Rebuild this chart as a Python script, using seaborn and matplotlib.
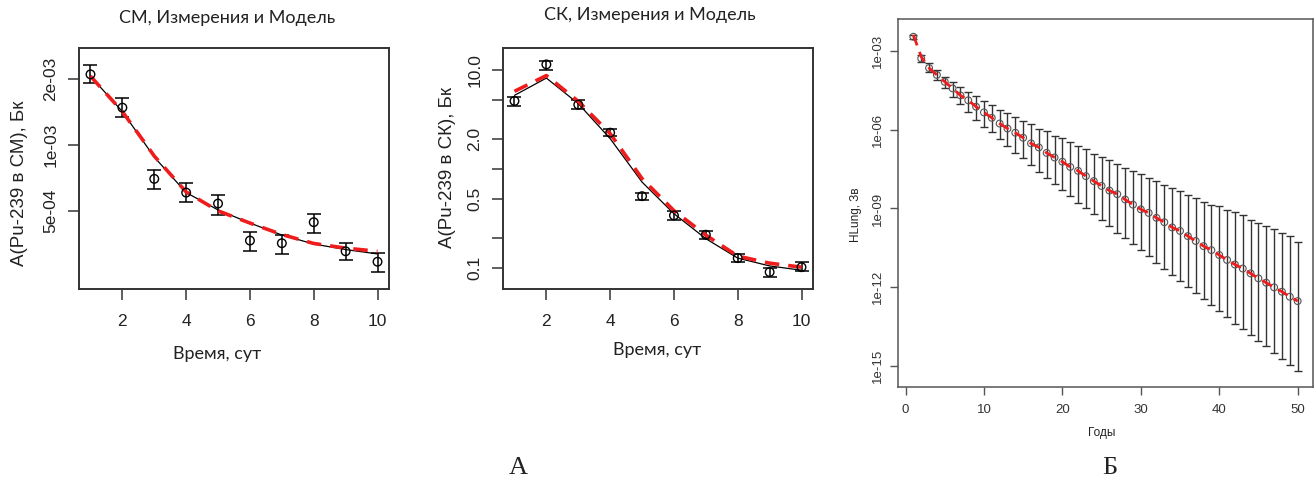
import numpy as np
import pandas as pd
import seaborn as sns
import matplotlib.pyplot as plt
from matplotlib.ticker import FixedLocator, FixedFormatter, NullLocator

# --- данные ---
days = [1, 2, 3, 4, 5, 6, 7, 8, 9, 10]

# СМ
sm_meas = [2.10e-3, 1.48e-3, 7.0e-4, 6.06e-4, 5.4e-4, 3.66e-4, 3.56e-4, 4.44e-4, 3.27e-4, 2.93e-4]
sm_hi = [2.32e-3, 1.63e-3, 7.7e-4, 6.7e-4, 5.9e-4, 4.0e-4, 3.88e-4, 4.82e-4, 3.58e-4, 3.22e-4]
sm_lo = [1.91e-3, 1.34e-3, 6.3e-4, 5.5e-4, 4.8e-4, 3.27e-4, 3.18e-4, 3.98e-4, 2.97e-4, 2.62e-4]
sm_fit = [2.06e-3, 1.42e-3, 8.8e-4, 6.06e-4, 5.05e-4, 4.4e-4, 3.88e-4, 3.53e-4, 3.33e-4, 3.18e-4]
sm_model = [2.06e-3, 1.42e-3, 8.9e-4, 6.1e-4, 5.0e-4, 4.4e-4, 3.9e-4, 3.55e-4, 3.38e-4, 3.27e-4]

# СК
sk_meas = [4.87, 11.4, 4.47, 2.33, 0.532, 0.340, 0.217, 0.126, 0.091, 0.102]
sk_hi = [5.33, 12.4, 4.97, 2.56, 0.573, 0.373, 0.237, 0.138, 0.099, 0.114]
sk_lo = [4.37, 10.1, 4.07, 2.14, 0.483, 0.304, 0.198, 0.115, 0.081, 0.093]
sk_fit = [5.55, 8.3, 4.58, 2.03, 0.738, 0.354, 0.198, 0.126, 0.105, 0.095]
sk_model = [6.1, 8.8, 4.83, 2.28, 0.80, 0.38, 0.215, 0.132, 0.112, 0.102]

# HLung
years = list(range(1, 51))
hl_mean = [3.4e-3, 5.1e-4, 2.2e-4, 1.2e-4, 6.6e-5, 3.7e-5, 2.0e-5, 1.3e-5, 7.4e-6, 4.5e-6,
           2.8e-6, 1.7e-6, 1.1e-6, 7.6e-7, 4.9e-7, 3.0e-7, 2.1e-7, 1.3e-7, 8.7e-8, 6.0e-8,
           3.8e-8, 2.7e-8, 1.7e-8, 1.1e-8, 7.2e-9, 4.8e-9, 3.5e-9, 2.2e-9, 1.4e-9, 9.3e-10,
           6.8e-10, 4.4e-10, 3.0e-10, 1.9e-10, 1.4e-10, 8.9e-11, 5.8e-11, 3.7e-11, 2.6e-11, 1.7e-11,
           1.1e-11, 7.4e-12, 5.2e-12, 3.4e-12, 2.2e-12, 1.5e-12, 1.0e-12, 6.8e-13, 4.4e-13, 3.0e-13]
hl_hi = [4.0e-3, 6.9e-4, 3.3e-4, 1.9e-4, 1.0e-4, 6.6e-5, 4.3e-5, 2.7e-5, 1.9e-5, 1.2e-5,
         8.5e-6, 5.5e-6, 4.4e-6, 2.9e-6, 2.1e-6, 1.6e-6, 1.1e-6, 8.8e-7, 5.8e-7, 4.6e-7,
         3.4e-7, 2.4e-7, 1.8e-7, 1.2e-7, 9.2e-8, 7.0e-8, 5.1e-8, 3.6e-8, 2.7e-8, 2.0e-8,
         1.5e-8, 1.1e-8, 7.7e-9, 5.8e-9, 4.5e-9, 3.2e-9, 2.4e-9, 1.8e-9, 1.4e-9, 1.2e-9,
         9.1e-10, 7.4e-10, 5.6e-10, 3.8e-10, 2.9e-10, 2.1e-10, 1.6e-10, 1.2e-10, 8.8e-11, 5.4e-11]
hl_lo = [2.8e-3, 3.8e-4, 1.6e-4, 7.6e-5, 3.7e-5, 1.8e-5, 9.1e-6, 4.6e-6, 2.3e-6, 1.3e-6,
         7.8e-7, 4.3e-7, 2.3e-7, 1.3e-7, 8.0e-8, 4.4e-8, 2.5e-8, 1.5e-8, 8.5e-9, 5.0e-9,
         2.9e-9, 1.6e-9, 1.0e-9, 6.1e-10, 3.6e-10, 2.1e-10, 1.2e-10, 7.3e-11, 4.3e-11, 2.6e-11,
         1.5e-11, 8.5e-12, 5.2e-12, 2.9e-12, 1.8e-12, 1.0e-12, 6.2e-13, 3.7e-13, 2.1e-13, 1.3e-13,
         7.4e-14, 4.1e-14, 2.6e-14, 1.5e-14, 9.1e-15, 5.7e-15, 3.2e-15, 1.9e-15, 1.1e-15, 6.6e-16]
hl_model = [4.0e-3, 5.9e-4] + hl_mean[2:]

sns.set_style("white")
plt.rcParams['font.family'] = ['Liberation Sans', 'DejaVu Sans']
TXT = '#222222'

W, H = 1314, 486
fig = plt.figure(figsize=(W / 100, H / 100), dpi=100)


def px_axes(x0, y0, x1, y1):
    # прямоугольник в пикселях (сверху вниз) -> доли фигуры
    return fig.add_axes([x0 / W, 1 - y1 / H, (x1 - x0) / W, (y1 - y0) / H])


def ftext(x, y, s, **kw):
    fig.text(x / W, 1 - y / H, s, ha='center', va='center', color=TXT, **kw)


def small_panel(ax, meas, lo, hi, fit, model, yticks, ylabels, ylim):
    df = pd.DataFrame({'t': days, 'meas': meas, 'fit': fit, 'model': model})
    err = [np.array(meas) - np.array(lo), np.array(hi) - np.array(meas)]
    ax.errorbar(days, meas, yerr=err, fmt='none', ecolor='black', elinewidth=1.1,
                capsize=5, capthick=1.1)
    sns.scatterplot(data=df, x='t', y='meas', ax=ax, marker='o', s=38,
                    facecolor='none', edgecolor='black', linewidth=1.0, zorder=3)
    sns.lineplot(data=df, x='t', y='fit', ax=ax, color='black', linewidth=0.9)
    sns.lineplot(data=df, x='t', y='model', ax=ax, color='#ee1c1c', linewidth=2.6,
                 dashes=(4, 2.5))
    ax.set_yscale('log')
    ax.set_xlim(0.64, 10.36)
    ax.set_ylim(*ylim)
    ax.xaxis.set_major_locator(FixedLocator([2, 4, 6, 8, 10]))
    ax.yaxis.set_major_locator(FixedLocator(yticks))
    ax.yaxis.set_major_formatter(FixedFormatter(ylabels))
    ax.yaxis.set_minor_locator(NullLocator())
    ax.set_xlabel('')
    ax.set_ylabel('')
    ax.tick_params(direction='out', length=8, width=1.1, color='#333333',
                   labelsize=12.5, labelcolor=TXT, left=True, bottom=True)
    ax.tick_params(axis='x', pad=10)
    ax.tick_params(axis='y', pad=7)
    for lab in ax.get_yticklabels():
        lab.set_rotation(90)
        lab.set_va('center')
    for sp in ax.spines.values():
        sp.set_color('#333333')
        sp.set_linewidth(1.4)


# --- панель СМ ---
ax1 = px_axes(79, 48, 389, 289)
small_panel(ax1, sm_meas, sm_lo, sm_hi, sm_fit, sm_model,
            [5e-4, 1e-3, 2e-3], ['5e-04', '1e-03', '2e-03'], (2.2e-4, 2.77e-3))
ftext(227, 18, 'СМ, Измерения и Модель', family='Lato', fontsize=13)
ftext(217, 354, 'Время, сут', family='Lato', fontsize=13)
ftext(20, 183, 'A(Pu-239 в СМ), Бк', rotation=90, fontsize=13.5)

# --- панель СК ---
ax2 = px_axes(503, 48, 813, 289)
small_panel(ax2, sk_meas, sk_lo, sk_hi, sk_fit, sk_model,
            [0.1, 0.2, 0.5, 1, 2, 5, 10], ['0.1', '', '0.5', '', '2.0', '', '10.0'],
            (0.0614, 16.7))
ftext(650, 15, 'СК, Измерения и Модель', family='Lato', fontsize=13)
ftext(657, 350, 'Время, сут', family='Lato', fontsize=13)
ftext(447, 167, 'A(Pu-239 в СК), Бк', rotation=90, fontsize=13.5)

# --- панель HLung ---
ax3 = px_axes(898, 19, 1313, 387)
hdf = pd.DataFrame({'year': years, 'mean': hl_mean, 'model': hl_model})
herr = [np.array(hl_mean) - np.array(hl_lo), np.array(hl_hi) - np.array(hl_mean)]
ax3.errorbar(years, hl_mean, yerr=herr, fmt='none', ecolor='#333333', elinewidth=1.0,
             capsize=3.2, capthick=1.0)
sns.scatterplot(data=hdf, x='year', y='mean', ax=ax3, marker='o', s=24,
                facecolor='none', edgecolor='#555555', linewidth=0.8, zorder=3)
sns.lineplot(data=hdf, x='year', y='model', ax=ax3, color='#ee1c1c', linewidth=2.0,
             dashes=(4, 2.5), zorder=4)
ax3.set_yscale('log')
ax3.set_xlim(-0.96, 51.96)
ax3.set_ylim(10 ** -15.79, 10 ** -1.793)
ax3.xaxis.set_major_locator(FixedLocator([0, 10, 20, 30, 40, 50]))
ax3.yaxis.set_major_locator(FixedLocator([1e-15, 1e-12, 1e-9, 1e-6, 1e-3]))
ax3.yaxis.set_major_formatter(FixedFormatter(['1e-15', '1e-12', '1e-09', '1e-06', '1e-03']))
ax3.yaxis.set_minor_locator(NullLocator())
ax3.set_xlabel('')
ax3.set_ylabel('')
ax3.tick_params(direction='out', length=6, width=1.0, color='#555555',
                labelsize=9.5, labelcolor='#333333', left=True, bottom=True)
ax3.tick_params(axis='x', pad=6)
ax3.tick_params(axis='y', pad=4)
for lab in ax3.get_yticklabels():
    lab.set_rotation(90)
    lab.set_va('center')
for sp in ax3.spines.values():
    sp.set_color('#555555')
    sp.set_linewidth(1.1)
ftext(1102, 433, 'Годы', fontsize=8.5)
ftext(856, 215, 'HLung, Зв', rotation=90, fontsize=8.5)

# подписи А и Б
ftext(518, 468, 'А', family='Liberation Serif', fontsize=19)
ftext(1110, 468, 'Б', family='Liberation Serif', fontsize=19)

fig.savefig('out.png', dpi=100)
